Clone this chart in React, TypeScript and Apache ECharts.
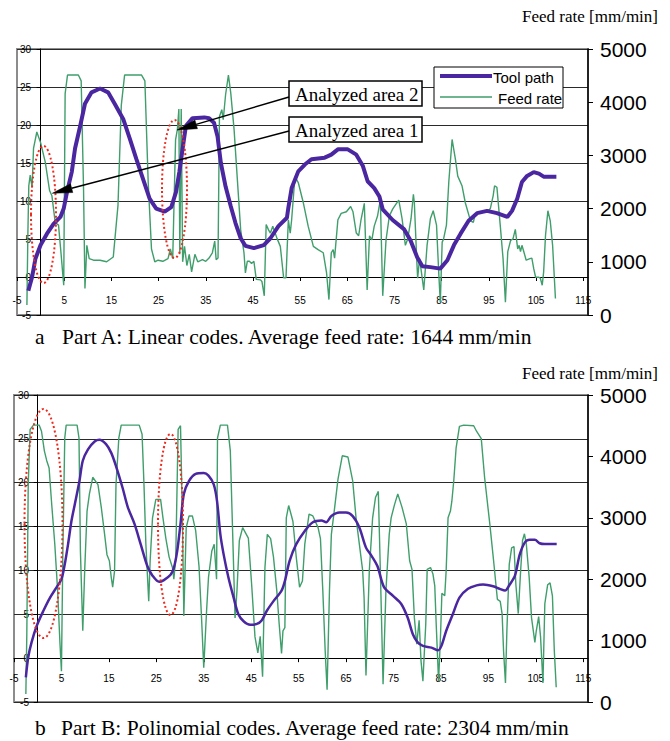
import React, { useEffect, useRef } from "react";
import * as echarts from "echarts";

// Tool path (left axis, -5..30), x = position
const toolPathA: [number, number][] = [
  [-2.6, -1.8], [-1.8, 0], [-1.1, 2.4], [0, 4.2], [1.35, 5.7], [2.75, 7.0], [4.2, 7.9], [4.9, 9.0],
  [5.6, 11.2], [6.6, 13.8], [7.3, 16.9], [8.4, 19.9], [9.4, 22.8], [10.8, 24.3], [12.6, 24.8],
  [14.3, 24.3], [15.7, 22.8], [17.5, 20.8], [18.9, 18.2], [20.3, 15.5], [21.7, 12.9], [23.1, 10.3],
  [24.5, 9.0], [26.3, 8.6], [27.7, 9.2], [28.7, 11.2], [29.4, 13.8], [30.1, 16.9], [30.8, 19.9],
  [32.2, 20.9], [34.7, 21.0], [35.7, 20.9], [36.75, 20.3], [37.5, 18.5], [38.2, 15.0], [39.2, 11.9],
  [40.3, 9.3], [41.3, 7.1], [42.4, 5.1], [43.4, 4.1], [45.2, 3.8], [47.3, 4.2], [48.7, 5.1],
  [50.4, 6.7], [52.2, 7.8], [52.5, 9.1], [53.2, 11.7], [54.6, 13.9], [56.0, 14.8], [57.4, 15.5],
  [60.2, 15.7], [61.6, 16.1], [63.0, 16.8], [65.1, 16.8], [66.9, 16.1], [68.3, 14.6], [69.3, 12.6],
  [70.7, 11.7], [71.8, 10.6], [72.5, 8.9], [74.6, 7.5], [77.0, 6.3], [78.4, 4.8], [79.8, 2.6],
  [80.9, 1.4], [82.6, 1.3], [84.7, 1.1], [86.2, 2.2], [87.6, 4.2], [89.0, 5.7], [90.7, 7.4],
  [92.5, 8.4], [94.6, 8.7], [96.7, 8.4], [98.9, 7.9], [99.9, 8.7], [101.0, 10.3], [102.0, 12.5],
  [103.1, 13.3], [104.5, 13.8], [105.6, 13.6], [106.6, 13.2], [109.3, 13.2],
];

// Feed rate (right axis, mm/min)
const feedRateA: [number, number][] = [
  [-2.9, 190], [-2.7, 1500], [-2.5, 2430], [-2.2, 2630], [-1.8, 2400], [-1.5, 3130], [-0.8, 3440],
  [0, 3240], [1.0, 2870], [1.9, 2340], [2.4, 2240], [3.1, 1740], [3.8, 1690], [4.3, 1190], [4.9, 560],
  [5.2, 4160], [5.7, 4510], [8.0, 4510], [8.6, 4400], [9.1, 2370], [9.4, 500], [9.8, 1310],
  [10.3, 1060], [11.2, 1030], [12.6, 1030], [14.0, 1000], [15.4, 1090], [16.4, 2060], [17.1, 3940],
  [17.8, 4510], [21.4, 4510], [22.1, 4400], [22.8, 2500], [23.5, 1240], [24.2, 1000], [24.9, 1030],
  [25.9, 1010], [27.0, 1060], [27.5, 1240], [28.0, 1060], [28.6, 3290], [29.0, 3500], [29.3, 3870],
  [29.5, 1140], [29.8, 3870], [30.1, 1000], [30.5, 1290], [31.0, 930], [31.5, 1140], [32.0, 810],
  [32.7, 1140], [33.3, 1000], [34.3, 1040], [35.0, 1010], [35.7, 1070], [36.4, 1170], [36.9, 1390],
  [37.2, 1040], [37.6, 1070], [37.9, 3730], [38.4, 3860], [38.7, 3670], [39.2, 4140], [39.8, 4510],
  [40.3, 4170], [41.0, 3490], [41.7, 2540], [42.4, 1600], [43.1, 1170], [43.4, 790], [43.8, 1010],
  [44.25, 1010], [44.7, 970], [45.2, 1010], [45.7, 670], [46.6, 660], [46.9, 630], [47.4, 360],
  [47.8, 1700], [48.3, 1600], [48.7, 1540], [49.2, 1670], [50.1, 1440], [50.8, 1290], [51.5, 700],
  [52.0, 700], [52.5, 1790], [52.9, 1540], [53.2, 1790], [53.9, 2600], [54.6, 2490], [55.7, 2100],
  [56.7, 1670], [57.8, 1290], [58.8, 1230], [59.9, 1170], [60.6, 790], [61.1, 290], [61.6, 1170],
  [62.0, 1230], [62.3, 1070], [63.0, 1790], [63.7, 1910], [64.8, 1940], [65.7, 2040], [66.2, 1940],
  [66.9, 1540], [67.4, 1490], [67.9, 1790], [68.6, 2100], [69.2, 470], [69.7, 1490], [70.2, 1410],
  [70.7, 1670], [71.4, 1860], [72.0, 2170], [72.5, 360], [73.2, 1410], [73.9, 1860], [74.6, 1990],
  [75.2, 2070], [75.9, 2160], [76.6, 1810], [77.3, 1310], [77.8, 1430], [78.5, 1810], [79.0, 2270],
  [79.2, 2110], [79.7, 1060], [79.9, 690], [80.3, 1060], [80.6, 870], [81.2, 470], [81.9, 1310],
  [82.6, 1810], [83.2, 1960], [83.9, 1690], [84.4, 740], [84.7, 240], [85.1, 1370], [85.4, 1430],
  [86.0, 1690], [86.5, 2500], [87.2, 3300], [87.9, 2930], [88.4, 2610], [89.3, 2430], [90.0, 2110],
  [91.1, 1770], [91.7, 1740], [92.1, 1900], [93.2, 1930], [94.6, 1940], [95.3, 2000], [95.9, 2240],
  [96.2, 2430], [96.7, 2400], [97.4, 1690], [98.0, 1060], [98.5, 240], [99.0, 1190], [99.6, 1400],
  [100.1, 1430], [100.6, 1610], [101.1, 1240], [101.4, 1310], [101.7, 1190], [102.0, 1310],
  [102.4, 1190], [102.9, 1030], [103.7, 1060], [104.1, 1070], [104.5, 870], [104.9, 710],
  [105.6, 710], [105.9, 690], [106.3, 560], [106.6, 810], [107.0, 1500], [107.5, 1960], [108.0, 1770],
  [108.5, 1310], [109.1, 310],
];

const toolPathB: [number, number][] = [
  [-2.5, -2.2], [-2.0, 0.1], [-1.3, 1.8], [-0.2, 3.7], [1.2, 5.4], [2.6, 6.9], [4.0, 8.1], [5.0, 9.0],
  [5.7, 10.7], [6.4, 13.0], [7.1, 15.6], [7.8, 17.5], [8.8, 20.2], [9.5, 22.5], [10.6, 23.8],
  [12.0, 24.7], [13.0, 24.9], [14.4, 24.4], [15.5, 23.4], [16.5, 21.9], [17.9, 19.4], [19.0, 17.2],
  [20.4, 15.3], [21.7, 13.0], [23.1, 10.5], [24.2, 9.4], [25.6, 8.7], [26.6, 8.9], [28.0, 9.5],
  [28.7, 10.3], [29.4, 12.2], [30.1, 15.3], [30.8, 18.7], [31.9, 20.2], [33.3, 21.0], [35.0, 21.1],
  [36.0, 20.8], [37.1, 19.8], [37.8, 17.9], [38.5, 14.1], [39.2, 11.8], [40.2, 9.2], [41.3, 6.9],
  [42.3, 5.0], [43.4, 4.2], [44.8, 3.8], [46.2, 3.9], [47.2, 4.3], [48.3, 5.4], [49.7, 6.5],
  [51.4, 7.7], [52.1, 8.8], [53.1, 11.1], [54.5, 13.0], [56.3, 14.5], [58.0, 15.5], [59.8, 15.7],
  [60.8, 15.5], [61.9, 16.2], [63.6, 16.6], [65.0, 16.6], [66.4, 16.2], [67.8, 14.9], [69.2, 12.6],
  [70.2, 11.8], [71.6, 10.5], [73.0, 8.1], [74.9, 7.1], [76.6, 6.2], [78.0, 4.6], [79.1, 2.7],
  [80.1, 1.8], [81.2, 1.4], [83.0, 1.2], [84.4, 0.9], [85.1, 1.4], [86.1, 3.1], [87.5, 5.0],
  [88.9, 6.9], [90.7, 7.9], [92.5, 8.3], [93.9, 8.4], [96.0, 8.2], [97.4, 7.9], [98.5, 7.7],
  [99.5, 8.4], [100.6, 9.4], [101.6, 11.8], [102.7, 13.2], [103.7, 13.5], [104.8, 13.5],
  [105.8, 13.1], [106.9, 13.0], [109.4, 13.0],
];

const feedRateB: [number, number][] = [
  [-2.5, 130], [-2.3, 1100], [-2.0, 3540], [-1.6, 4440], [-0.9, 4510], [0.3, 4510], [0.8, 4410],
  [1.4, 4090], [1.9, 3930], [2.4, 3810], [2.9, 3270], [3.6, 2570], [4.2, 1810], [4.7, 940], [5.0, 500],
  [5.3, 2460], [5.7, 4300], [6.0, 4510], [8.3, 4510], [8.7, 4300], [9.0, 2460], [9.5, 1160],
  [9.9, 2140], [10.4, 3110], [10.9, 3390], [11.6, 3660], [12.7, 3540], [13.4, 3170], [14.1, 2730],
  [14.6, 2400], [15.1, 2300], [15.5, 2030], [15.8, 1870], [16.2, 2140], [16.5, 3540], [17.1, 4300],
  [17.6, 4510], [21.4, 4510], [22.0, 4360], [22.4, 3540], [22.8, 2570], [23.4, 1640], [23.7, 2300],
  [24.2, 3000], [24.9, 3300], [25.9, 3300], [26.4, 3000], [27.0, 2670], [27.7, 2360], [28.4, 2190],
  [28.7, 2000], [29.1, 2360], [29.6, 4440], [30.1, 4500], [30.5, 3000], [30.8, 1400], [31.3, 2840],
  [31.9, 3030], [32.6, 3030], [33.3, 2790], [34.0, 2210], [34.5, 1430], [35.0, 560], [35.6, 1490],
  [36.0, 2030], [36.7, 2460], [37.2, 2570], [37.7, 2000], [37.9, 4300], [38.5, 4510], [40.0, 4510],
  [40.6, 4090], [41.1, 2730], [41.6, 1370], [42.0, 1810], [42.5, 2630], [43.2, 2840], [44.4, 2670],
  [45.1, 1910], [45.8, 1060], [46.4, 800], [46.9, 1070], [47.4, 410], [47.9, 2190], [48.4, 2730],
  [49.1, 2660], [49.7, 2360], [50.4, 1810], [50.9, 1270], [51.4, 790], [51.7, 1160], [52.1, 1210],
  [52.4, 3000], [52.9, 3200], [53.5, 3030], [53.8, 2940], [54.5, 2360], [55.2, 1870], [55.8, 1970],
  [56.3, 2570], [57.2, 3060], [58.0, 3030], [59.1, 2840], [59.6, 2660], [60.1, 1810], [60.6, 830],
  [61.0, 200], [61.5, 1810], [61.9, 2730], [62.6, 3170], [63.3, 3630], [64.2, 4010], [65.4, 3990],
  [66.4, 3600], [67.1, 3000], [67.8, 2570], [68.5, 2140], [68.8, 1700], [69.2, 430], [69.9, 2140],
  [70.6, 3000], [71.2, 3330], [71.8, 3430], [72.3, 1910], [72.8, 290], [73.4, 1810], [74.1, 2730],
  [74.5, 3000], [75.2, 3210], [75.9, 3390], [76.8, 3170], [77.7, 2900], [78.4, 2300], [78.9, 2160],
  [79.4, 1370], [79.9, 940], [80.4, 1330], [80.8, 670], [81.2, 340], [81.8, 1270], [82.1, 2160],
  [82.8, 2190], [83.3, 2090], [83.7, 1890], [84.0, 1270], [84.5, 340], [84.9, 1060], [85.2, 1770],
  [85.8, 1730], [86.1, 2140], [86.5, 3000], [87.0, 3110], [87.3, 3270], [87.7, 3600], [88.2, 4140],
  [88.9, 4490], [89.8, 4510], [91.9, 4500], [92.5, 4410], [93.5, 4290], [94.2, 3660], [95.3, 2900],
  [96.1, 2300], [96.9, 1670], [97.5, 1640], [97.9, 1430], [98.2, 830], [98.6, 310], [98.9, 1160],
  [99.4, 2240], [99.9, 2510], [100.4, 2530], [100.8, 1910], [101.3, 1440], [101.8, 2140],
  [102.2, 2630], [102.6, 2740], [103.0, 2570], [103.6, 2030], [104.1, 1370], [104.8, 970],
  [105.1, 1160], [105.6, 1390], [106.0, 1060], [106.5, 310], [106.9, 1600], [107.5, 1910],
  [108.0, 1940], [108.5, 1730], [108.9, 830], [109.3, 240],
];

const seriesNames = ["Tool path", "Feed rate"];
const rightAxisName = "Feed rate [mm/min]";
const captionA = ["a", "Part A: Linear codes. Average feed rate: 1644 mm/min"];
const captionB = ["b", "Part B: Polinomial codes. Average feed rate: 2304 mm/min"];
const areaLabels = ["Analyzed area 2", "Analyzed area 1"];

const PURPLE = "#4a27a0";
const GREEN = "#3f9e6b";
const SANS = '"Liberation Sans", Arial, Helvetica, sans-serif';
const SERIF = '"Liberation Serif", "Times New Roman", serif';

function xAxisFor(gridIndex: number, zeroAxis: number, labelMargin: number) {
  return {
    type: "value",
    gridIndex,
    min: -5,
    max: 116,
    interval: 10,
    axisLine: { show: true, onZero: true, onZeroAxisIndex: zeroAxis, lineStyle: { color: "#000", width: 1 } },
    axisTick: { show: true, length: 4, lineStyle: { color: "#000" } },
    axisLabel: {
      inside: true,
      fontSize: 10,
      fontFamily: SANS,
      color: "#000",
      margin: labelMargin,
      verticalAlign: "middle",
      showMaxLabel: false,
      formatter: (v: number) => (Math.round(v + 5) % 10 === 0 ? String(v) : ""),
    },
    splitLine: { show: false },
  };
}

function leftAxis(gridIndex: number, labelMargin: number) {
  return {
    type: "value",
    gridIndex,
    position: "left",
    min: -5,
    max: 30,
    interval: 5,
    axisLine: { show: true, onZero: true, lineStyle: { color: "#000", width: 1 } },
    axisTick: { show: true, length: 4, lineStyle: { color: "#000" } },
    axisLabel: {
      inside: true,
      align: "right",
      fontSize: 10,
      fontFamily: SANS,
      color: "#000",
      margin: labelMargin,
      formatter: (v: number) => String(v),
    },
    splitLine: { show: true, lineStyle: { color: "#2a2a2a", width: 1 } },
  };
}

function rightAxis(gridIndex: number) {
  return {
    type: "value",
    gridIndex,
    position: "right",
    min: 0,
    max: 5000,
    interval: 1000,
    axisLine: { show: true, onZero: false, lineStyle: { color: "#000", width: 1.5 } },
    axisTick: { show: true, length: 5, lineStyle: { color: "#000" } },
    axisLabel: { fontSize: 21, fontFamily: SANS, color: "#000", margin: 12, formatter: (v: number) => String(v) },
    splitLine: { show: false },
  };
}

function arrow(x0: number, y0: number, tx: number, ty: number) {
  const dx = tx - x0;
  const dy = ty - y0;
  const len = Math.sqrt(dx * dx + dy * dy);
  const ux = dx / len;
  const uy = dy / len;
  const bx = tx - ux * 20;
  const by = ty - uy * 20;
  const nx = -uy * 4.5;
  const ny = ux * 4.5;
  return [
    { type: "line", z: 100, shape: { x1: x0, y1: y0, x2: bx, y2: by }, style: { stroke: "#000", lineWidth: 1.5 } },
    {
      type: "polygon",
      z: 100,
      shape: { points: [[tx, ty], [bx + nx, by + ny], [bx - nx, by - ny]] },
      style: { fill: "#000", stroke: "#000", lineWidth: 0.5 },
    },
  ];
}

function text(x: number, y: number, t: string, font: string, align = "left") {
  return {
    type: "text",
    z: 100,
    x,
    y,
    style: {
      text: t,
      font,
      fill: "#000",
      align,
      textAlign: align,
      verticalAlign: "middle",
      textVerticalAlign: "middle",
    },
  };
}

function ellipse(cx: number, cy: number, rx: number, ry: number) {
  return {
    type: "ellipse",
    z: 100,
    shape: { cx, cy, rx, ry },
    style: { fill: "none", stroke: "#ee2a1e", lineWidth: 2, lineDash: [2, 2.5] },
  };
}

export default function App() {
  const ref = useRef<HTMLDivElement>(null);

  useEffect(() => {
    if (!ref.current) return;
    const chart = echarts.init(ref.current, undefined, { renderer: "svg" });

    const graphic: any[] = [
      // headers of right axes
      text(658, 16, rightAxisName, `17px ${SERIF}`, "right"),
      text(658, 373, rightAxisName, `17px ${SERIF}`, "right"),
      // captions
      text(35, 337, captionA[0], `21.5px ${SERIF}`),
      text(62, 337, captionA[1], `21.5px ${SERIF}`),
      text(35, 728, captionB[0], `21.5px ${SERIF}`),
      text(61, 728, captionB[1], `21.5px ${SERIF}`),
      // ellipses (analysed areas)
      ellipse(43.5, 214.5, 12.5, 68.5),
      ellipse(174.5, 189, 12.5, 69),
      ellipse(43.5, 523.5, 19, 114.5),
      ellipse(170.5, 524.5, 12.5, 90.5),
      // annotation boxes
      { type: "rect", z: 100, shape: { x: 289, y: 81, width: 133, height: 25 }, style: { fill: "#fff", stroke: "#000", lineWidth: 1.5 } },
      { type: "rect", z: 100, shape: { x: 289, y: 117, width: 133, height: 25 }, style: { fill: "#fff", stroke: "#000", lineWidth: 1.5 } },
      text(295, 94, areaLabels[0], `19px ${SERIF}`),
      text(295, 130, areaLabels[1], `19px ${SERIF}`),
      ...arrow(289, 97, 177, 130),
      ...arrow(289, 131, 52.3, 193.3),
      // legend
      { type: "rect", z: 100, shape: { x: 434, y: 67, width: 129, height: 41 }, style: { fill: "#fff", stroke: "#000", lineWidth: 1 } },
      { type: "line", z: 101, shape: { x1: 440, y1: 76, x2: 492, y2: 76 }, style: { stroke: PURPLE, lineWidth: 4 } },
      { type: "line", z: 101, shape: { x1: 440, y1: 97, x2: 492, y2: 97 }, style: { stroke: GREEN, lineWidth: 1.5 } },
      text(493, 77, seriesNames[0], `15px ${SANS}`),
      text(498, 98, seriesNames[1], `15px ${SANS}`),
    ];

    chart.setOption({
      animation: false,
      backgroundColor: "#fff",
      grid: [
        { left: 17, top: 49, width: 571, height: 266, show: true, borderColor: "#8c8c8c", borderWidth: 2, backgroundColor: "transparent", outerBoundsMode: "none" },
        { left: 14, top: 395, width: 574, height: 307, show: true, borderColor: "#8c8c8c", borderWidth: 2, backgroundColor: "transparent", outerBoundsMode: "none" },
      ],
      xAxis: [xAxisFor(0, 0, 15), xAxisFor(1, 2, 24)],
      yAxis: [leftAxis(0, 14), rightAxis(0), leftAxis(1, 15), rightAxis(1)],
      series: [
        {
          name: seriesNames[1], type: "line", xAxisIndex: 0, yAxisIndex: 1, data: feedRateA,
          showSymbol: false, symbol: "none", z: 3, lineStyle: { color: GREEN, width: 1.4 }, itemStyle: { color: GREEN },
        },
        {
          name: seriesNames[0], type: "line", xAxisIndex: 0, yAxisIndex: 0, data: toolPathA,
          showSymbol: false, symbol: "none", z: 4, lineStyle: { color: PURPLE, width: 4 }, itemStyle: { color: PURPLE },
        },
        {
          name: seriesNames[1], type: "line", xAxisIndex: 1, yAxisIndex: 3, data: feedRateB,
          showSymbol: false, symbol: "none", z: 3, lineStyle: { color: GREEN, width: 1.4 }, itemStyle: { color: GREEN },
        },
        {
          name: seriesNames[0], type: "line", xAxisIndex: 1, yAxisIndex: 2, data: toolPathB, smooth: 0.3,
          showSymbol: false, symbol: "none", z: 4, lineStyle: { color: PURPLE, width: 2.5 }, itemStyle: { color: PURPLE },
        },
      ],
      graphic,
    } as any);

    return () => chart.dispose();
  }, []);

  return <div ref={ref} style={{ position: "absolute", left: 0, top: 0, width: 670, height: 741 }} />;
}
